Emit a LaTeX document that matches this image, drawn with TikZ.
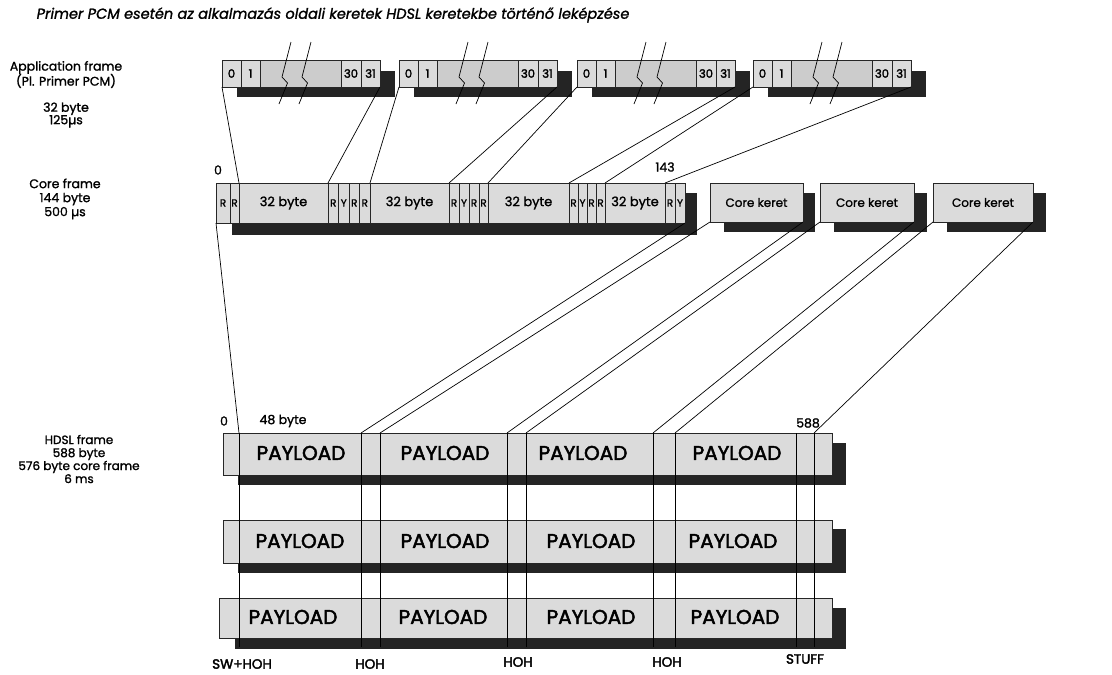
\documentclass[tikz,border=0pt]{standalone}
\usepackage{fontspec}
\setmainfont{Poppins}[FakeBold=1.3]
\newfontfamily\heavyfont{Poppins}[FakeBold=2.4]
\definecolor{boxc}{gray}{0.80}
\definecolor{cellc}{gray}{0.86}
\definecolor{shc}{gray}{0.14}
\begin{document}
\begin{tikzpicture}[x=1pt,y=-1pt,line width=0.7pt,
  box/.style={draw=black!85,fill=boxc,inner sep=0pt,outer sep=0pt,anchor=north west},
  cellbox/.style={box,fill=cellc,font=\heavyfont\fontsize{11.5}{13}\selectfont},
  shadowbox/.style={fill=shc,draw=none},
  lbl/.style={align=center,font=\fontsize{12.5}{#1}\selectfont},
  small/.style={font=\fontsize{12.5}{14}\selectfont},
  pay/.style={font=\heavyfont\fontsize{20}{22}\selectfont},
  foot/.style={font=\heavyfont\fontsize{13.5}{16}\selectfont}]
\useasboundingbox[fill=white] (0,0) rectangle (1112,675);

% title
\node[anchor=west,font=\fontsize{14.5}{17}\selectfont\itshape] (title) at (33,15)
  {Primer PCM esetén az alkalmazás oldali keretek HDSL keretekbe történő leképzése};

% left labels
\node[lbl=15] (l1) at (66,74.5) {Application frame\\(Pl. Primer PCM)};
\node[lbl=12.5] (l2) at (66,115) {32 byte\\125µs};
\node[lbl=14] (l3) at (65,199) {Core frame\\144 byte\\500 µs};
\node[align=center,font=\fontsize{12}{13}\selectfont] (l4) at (79,459) {HDSL frame\\588 byte\\576 byte core frame\\6 ms};

% application frames
\foreach \i/\x in {1/222,2/399,3/577,4/753}{
  \fill[shadowbox] ({\x+15},71) rectangle ({\x+173},97);
  \node[box,minimum width=158pt,minimum height=27pt] (app\i) at (\x,60) {};
  \node[cellbox,minimum width=19pt,minimum height=27pt] (app\i-a) at (\x,60) {0};
  \node[cellbox,minimum width=19pt,minimum height=27pt] (app\i-b) at ({\x+19},60) {1};
  \node[cellbox,minimum width=20pt,minimum height=27pt] (app\i-c) at ({\x+119},60) {30};
  \node[cellbox,minimum width=19pt,minimum height=27pt] (app\i-d) at ({\x+139},60) {31};
  \draw ({\x+69},42) -- ({\x+60},77) -- ({\x+65.5},83) -- ({\x+57},104);
  \draw ({\x+89},42) -- ({\x+80},77) -- ({\x+85.5},83) -- ({\x+77},104);
}

% core frame
\fill[shadowbox] (232,193) rectangle (697,235);
\node[box,minimum width=469pt,minimum height=40pt] (core) at (216,183) {};
\foreach \n/\xa/\w/\t in {a/216/14pt/R,b/230/9pt/R,
  c/328/10.5pt/R,d/338.5/10.5pt/Y,e/349/10.5pt/R,f/359.5/10.5pt/R,
  g/449/10pt/R,h/459/10pt/Y,i/469/10pt/R,j/479/9pt/R,
  k/569/9pt/R,l/578/9pt/Y,m/587/9pt/R,n/596/9pt/R,
  o/665/10pt/R,p/675/10pt/Y}{
  \node[cellbox,minimum width=\w,minimum height=40pt,font=\fontsize{10.5}{12}\selectfont] (core-\n) at (\xa,183) {\t};
}
\foreach \n/\xa/\w in {1/239/89pt,2/370/79pt,3/488/81pt,4/605/60pt}{
  \node[cellbox,minimum width=\w,minimum height=40pt,font=\fontsize{13}{15}\selectfont] (cb\n) at (\xa,183) {32 byte};
}
\node[small] (c0) at (218,170) {0};
\node[small] (c143) at (665,167) {143};

% core keret boxes
\fill[shadowbox] (724,193) rectangle (815,232);
\fill[shadowbox] (834,193) rectangle (927,232);
\fill[shadowbox] (947,193) rectangle (1046,232);
\node[cellbox,minimum width=93pt,minimum height=39pt,font=\fontsize{12}{14}\selectfont] (ck1) at (710,183) {Core keret};
\node[cellbox,minimum width=94pt,minimum height=39pt,font=\fontsize{12}{14}\selectfont] (ck2) at (820,183) {Core keret};
\node[cellbox,minimum width=100pt,minimum height=39pt,font=\fontsize{12}{14}\selectfont] (ck3) at (933,183) {Core keret};

% app -> core connectors
\foreach \i in {1,2,3,4}{
  \draw (app\i.south west) -- (cb\i.north west);
  \draw (app\i.south east) -- (cb\i.north east);
}

% HDSL frames
\fill[shadowbox] (238,443) rectangle (846,485);
\fill[shadowbox] (238,529) rectangle (846,573);
\fill[shadowbox] (235,608) rectangle (846,649);
\node[box,fill=cellc,minimum width=609pt,minimum height=42pt] (h1) at (223,433) {};
\node[box,fill=cellc,minimum width=609pt,minimum height=43pt] (h2) at (223,520) {};
\node[box,fill=cellc,minimum width=613pt,minimum height=40pt] (h3) at (219,598) {};

\foreach \i/\x in {1/239,2/361,3/380,4/507,5/526,6/653,7/675,8/796,9/814}{
  \coordinate (hx\i) at (\x,433);
  \draw (hx\i) -- ++(0,214);
}

% core -> HDSL connectors
\draw (core.south west) -- (hx1);
\draw (core.south east) -- (hx2);
\draw (ck1.south west) -- (hx3);
\draw (ck1.south east) -- (hx4);
\draw (ck2.south west) -- (hx5);
\draw (ck2.south east) -- (hx6);
\draw (ck3.south west) -- (hx7);
\draw (ck3.south east) -- (hx9);

\node[small] (h0) at (224,421) {0};
\node[small] (h48) at (283,421) {48 byte};
\node[small] (h588) at (808,423) {588};

% payload texts
\foreach \n/\x/\y in {a/301/453,b/445/453,c/583/453,d/737/453,
  e/300/541,f/445/541,g/591/541,h/733/541,
  i/293/617,j/443/617,k/591/617,l/735/617}{
  \node[pay] (pl\n) at (\x,\y) {PAYLOAD};
}

% bottom labels
\node[foot] (f1) at (242,664) {SW+HOH};
\node[foot] (f2) at (370,664) {HOH};
\node[foot] (f3) at (518,662) {HOH};
\node[foot] (f4) at (667,662) {HOH};
\node[foot] (f5) at (805,659) {STUFF};
\end{tikzpicture}
\end{document}
